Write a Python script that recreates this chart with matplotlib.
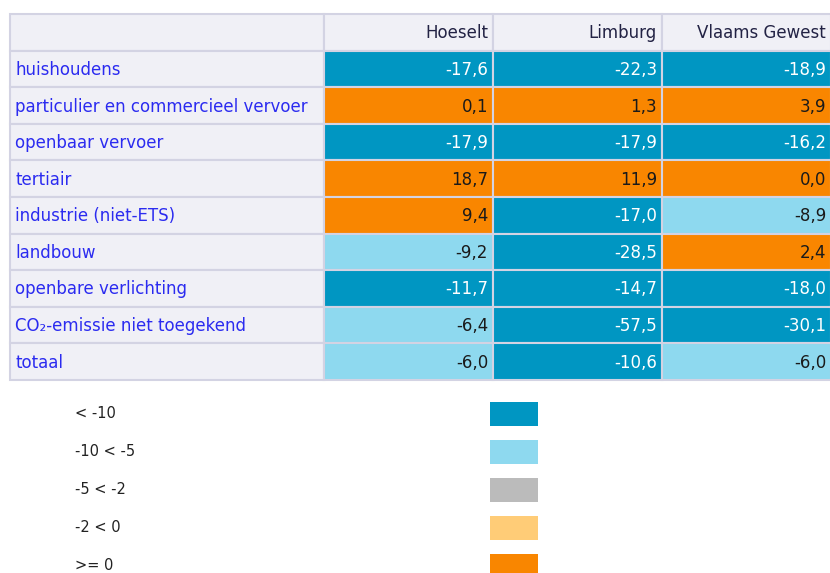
import matplotlib.pyplot as plt
from matplotlib.patches import Rectangle

columns = ["Hoeselt", "Limburg", "Vlaams Gewest"]
rows = ["huishoudens", "particulier en commercieel vervoer", "openbaar vervoer",
        "tertiair", "industrie (niet-ETS)", "landbouw", "openbare verlichting",
        "CO\u2082-emissie niet toegekend", "totaal"]
hoeselt = [-17.6, 0.1, -17.9, 18.7, 9.4, -9.2, -11.7, -6.4, -6.0]
limburg = [-22.3, 1.3, -17.9, 11.9, -17.0, -28.5, -14.7, -57.5, -10.6]
vlaams = [-18.9, 3.9, -16.2, 0.0, -8.9, 2.4, -18.0, -30.1, -6.0]

legend_labels = ["< -10", "-10 < -5", "-5 < -2", "-2 < 0", ">= 0"]
legend_colors = ["#0096c2", "#8ed9ef", "#bbbbbb", "#ffcc77", "#f98600"]


def cell_color(v):
    if v < -10:
        return legend_colors[0]
    if v < -5:
        return legend_colors[1]
    if v < -2:
        return legend_colors[2]
    if v < 0:
        return legend_colors[3]
    return legend_colors[4]


fig = plt.figure(figsize=(8.3, 5.73), dpi=100)
ax = fig.add_axes([0, 0, 1, 1])
ax.set_xlim(0, 830)
ax.set_ylim(573, 0)
ax.axis("off")

left, top = 10, 14
label_w, col_w, row_h = 314, 169, 36.6
border = "#d3d3e3"
bg = "#f0f0f6"
fs = 12

# header row
ax.add_patch(Rectangle((left, top), label_w, row_h, facecolor=bg, edgecolor=border, lw=1.5))
for j, c in enumerate(columns):
    x = left + label_w + j * col_w
    ax.add_patch(Rectangle((x, top), col_w, row_h, facecolor=bg, edgecolor=border, lw=1.5))
    ax.text(x + col_w - 5, top + row_h / 2 + 1, c, ha="right", va="center",
            fontsize=fs, color="#222244")

data = [hoeselt, limburg, vlaams]
for i, r in enumerate(rows):
    y = top + (i + 1) * row_h
    ax.add_patch(Rectangle((left, y), label_w, row_h, facecolor=bg, edgecolor=border, lw=1.5))
    ax.text(left + 5, y + row_h / 2 + 1, r, ha="left", va="center", fontsize=fs, color="#2b2bf0")
    for j, series in enumerate(data):
        v = series[i]
        x = left + label_w + j * col_w
        fc = cell_color(v)
        ax.add_patch(Rectangle((x, y), col_w, row_h, facecolor=fc, edgecolor=border, lw=1.5))
        tc = "white" if v < -10 else "#1a1a1a"
        ax.text(x + col_w - 5, y + row_h / 2 + 1, f"{v:.1f}".replace(".", ","),
                ha="right", va="center", fontsize=fs, color=tc)

# legend
for k, (lab, col) in enumerate(zip(legend_labels, legend_colors)):
    yc = 414 + k * 38
    ax.text(75, yc, lab, ha="left", va="center", fontsize=10.5, color="#222222")
    ax.add_patch(Rectangle((490, yc - 12), 48, 24, facecolor=col, edgecolor="none"))

fig.savefig("out.png", dpi=100)
